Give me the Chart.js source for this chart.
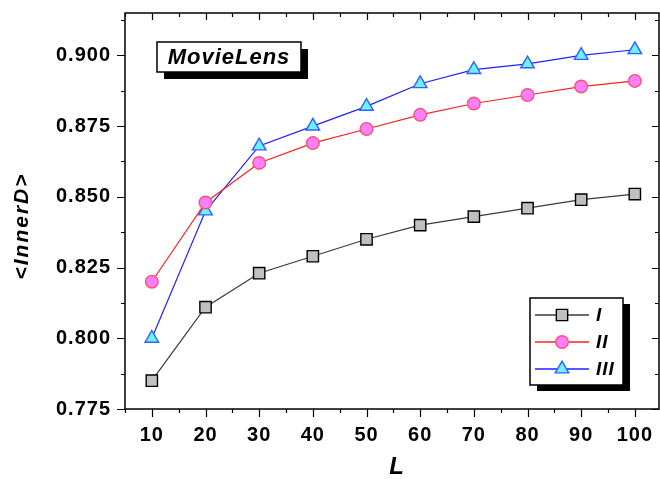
<!DOCTYPE html>
<html><head><meta charset="utf-8">
<script src="https://cdn.jsdelivr.net/npm/chart.js@4/dist/chart.umd.min.js"></script>
<style>html,body{margin:0;padding:0;background:#fff;}#wrap{width:660px;height:479px;position:relative}</style>
</head><body><div id="wrap"><canvas id="c" width="660" height="479"></canvas></div>
<script>
// ---- data ----
const lValues = [10, 20, 30, 40, 50, 60, 70, 80, 90, 100];
const seriesI = [0.785, 0.811, 0.823, 0.829, 0.835, 0.840, 0.843, 0.846, 0.849, 0.851];
const seriesII = [0.820, 0.848, 0.862, 0.869, 0.874, 0.879, 0.883, 0.886, 0.889, 0.891];
const seriesIII = [0.800, 0.845, 0.868, 0.875, 0.882, 0.890, 0.895, 0.897, 0.900, 0.902];
const seriesNames = ['I', 'II', 'III'];
const xTickLabels = ['10', '20', '30', '40', '50', '60', '70', '80', '90', '100'];
const yTickLabels = ['0.775', '0.800', '0.825', '0.850', '0.875', '0.900'];
const xTitle = 'L';
const yTitle = '<InnerD>';
const dataSetName = 'MovieLens';

const FONT = "'Liberation Sans', Arial, sans-serif";
const styles = [
  {line: '#3a3a3a', fill: '#c0c0c0', border: '#000000', shape: 'rect', r: 8},
  {line: '#ff2020', fill: '#ff80ff', border: '#ff5070', shape: 'circle', r: 6.3},
  {line: '#2020ff', fill: '#70f0ff', border: '#3060ff', shape: 'triangle', r: 7.8}
];
const allSeries = [seriesI, seriesII, seriesIII];

const datasets = allSeries.map((s, i) => ({
  label: seriesNames[i],
  data: s.map((v, k) => ({x: lValues[k], y: v})),
  borderColor: styles[i].line,
  borderWidth: 1.2,
  pointStyle: styles[i].shape,
  pointRadius: styles[i].r,
  pointBackgroundColor: styles[i].fill,
  pointBorderColor: styles[i].border,
  pointBorderWidth: 1.4,
  tension: 0,
  fill: false
}));

function isLabel(list, v, dec) {
  return list.indexOf(v.toFixed(dec)) >= 0 && Math.abs(parseFloat(v.toFixed(dec)) - v) < 1e-6;
}

const framePlugin = {
  id: 'frame',
  beforeDraw(chart) { chart.ctx.letterSpacing = '1px'; },
  afterDatasetsDraw(chart) {
    const {ctx, chartArea: a, scales: {x, y}} = chart;
    ctx.save();
    ctx.letterSpacing = '0px';
    ctx.strokeStyle = '#000';
    ctx.lineWidth = 1.5;
    ctx.strokeRect(a.left, a.top, a.right - a.left, a.bottom - a.top);
    ctx.lineWidth = 1.2;
    ctx.beginPath();
    x.ticks.forEach(t => {
      const px = Math.round(x.getPixelForValue(t.value)) + 0.5;
      const major = t.label !== '';
      const out = major ? 8 : 4, inn = major ? 7 : 4;
      ctx.moveTo(px, a.bottom); ctx.lineTo(px, a.bottom + out);
      ctx.moveTo(px, a.top); ctx.lineTo(px, a.top + inn);
    });
    y.ticks.forEach(t => {
      const py = Math.round(y.getPixelForValue(t.value)) + 0.5;
      const major = t.label !== '';
      const out = major ? 8 : 4, inn = major ? 7 : 4;
      ctx.moveTo(a.left, py); ctx.lineTo(a.left - out, py);
      ctx.moveTo(a.right, py); ctx.lineTo(a.right - inn, py);
    });
    ctx.stroke();

    // axis titles
    ctx.fillStyle = '#000';
    ctx.letterSpacing = '1px';
    ctx.font = "italic bold 24px " + FONT;
    ctx.textAlign = 'center'; ctx.textBaseline = 'middle';
    ctx.fillText(xTitle, (a.left + a.right) / 2 + 5, 467);
    ctx.save();
    ctx.translate(22, 226);
    ctx.rotate(-Math.PI / 2);
    ctx.font = "italic bold 21px " + FONT;
    ctx.letterSpacing = '2px';
    ctx.fillText(yTitle, 0, 0);
    ctx.restore();

    // dataset name box
    const bx = 157, by = 42, bw = 144, bh = 30, sh = 7;
    ctx.fillStyle = '#000';
    ctx.fillRect(bx + sh, by + sh, bw, bh);
    ctx.fillStyle = '#fff';
    ctx.fillRect(bx, by, bw, bh);
    ctx.lineWidth = 1.5; ctx.strokeStyle = '#000';
    ctx.strokeRect(bx, by, bw, bh);
    ctx.fillStyle = '#000';
    ctx.font = "italic bold 22px " + FONT;
    ctx.textAlign = 'center';
    ctx.fillText(dataSetName, bx + bw / 2, by + bh / 2 + 1);

    // legend
    const lx = 530, ly = 298, lw = 93, lh = 87;
    ctx.fillStyle = '#000';
    ctx.fillRect(lx + 7, ly + 6, lw, lh);
    ctx.fillStyle = '#fff';
    ctx.fillRect(lx, ly, lw, lh);
    ctx.strokeRect(lx, ly, lw, lh);
    chart.data.datasets.forEach((ds, i) => {
      const ry = ly + 17 + i * 27;
      ctx.strokeStyle = ds.borderColor; ctx.lineWidth = 1.5;
      ctx.beginPath(); ctx.moveTo(lx + 5, ry); ctx.lineTo(lx + 59, ry); ctx.stroke();
      ctx.fillStyle = ds.pointBackgroundColor; ctx.strokeStyle = ds.pointBorderColor; ctx.lineWidth = 1.4;
      Chart.helpers.drawPoint(ctx, {pointStyle: ds.pointStyle, radius: ds.pointRadius, borderWidth: 1.4, rotation: 0}, lx + 32, ry);
      ctx.fillStyle = '#000';
      ctx.font = "italic bold 19px " + FONT;
      ctx.textAlign = 'left';
      ctx.fillText(ds.label, lx + 66, ry + 1);
    });
    ctx.restore();
  }
};

new Chart(document.getElementById('c'), {
  type: 'line',
  data: {datasets},
  options: {
    responsive: false,
    devicePixelRatio: 1,
    animation: false,
    layout: {autoPadding: false, padding: {left: 0, top: 13, right: 1, bottom: 0}},
    plugins: {legend: {display: false}, tooltip: {enabled: false}},
    scales: {
      x: {
        type: 'linear', min: 5, max: 104.5,
        grid: {display: false, drawTicks: false},
        border: {display: false},
        afterFit(s) { s.height = 70; s.paddingLeft = 0; s.paddingRight = 0; },
        ticks: {
          stepSize: 5, includeBounds: false, autoSkip: false, maxRotation: 0, padding: 14,
          color: '#000', font: {family: FONT, size: 20, weight: 'bold'},
          callback: v => isLabel(xTickLabels, v, 0) ? v.toFixed(0) : ''
        }
      },
      y: {
        type: 'linear', min: 0.775, max: 0.915,
        grid: {display: false, drawTicks: false},
        border: {display: false},
        afterFit(s) { s.width = 125; s.paddingTop = 0; s.paddingBottom = 0; },
        ticks: {
          stepSize: 0.0125, includeBounds: false, autoSkip: false, padding: 14,
          color: '#000', font: {family: FONT, size: 20, weight: 'bold'},
          callback: v => isLabel(yTickLabels, v, 3) ? v.toFixed(3) : ''
        }
      }
    }
  },
  plugins: [framePlugin]
});
</script></body></html>
